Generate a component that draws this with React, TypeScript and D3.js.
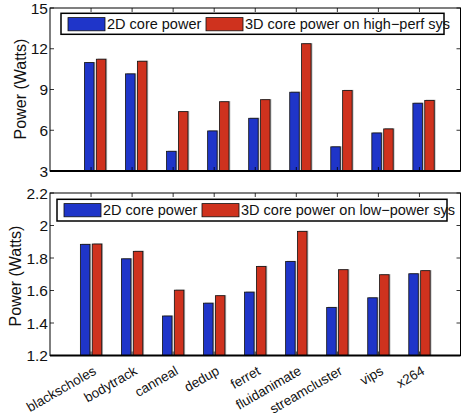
import React, { useEffect, useRef } from "react";
import * as d3 from "d3";

const categories = [
  "blackscholes",
  "bodytrack",
  "canneal",
  "dedup",
  "ferret",
  "fluidanimate",
  "streamcluster",
  "vips",
  "x264",
];

// high-perf system (top panel)
const hpCore2D = [10.98, 10.15, 4.45, 5.95, 6.88, 8.8, 4.78, 5.8, 7.99];
const hpCore3D = [11.23, 11.08, 7.37, 8.1, 8.25, 12.37, 8.93, 6.1, 8.2];
const hpTicks = [3, 6, 9, 12, 15];
const hpLegend = ["2D core power", "3D core power on high\u2212perf sys"];

// low-power system (bottom panel)
const lpCore2D = [1.884, 1.795, 1.443, 1.522, 1.59, 1.779, 1.496, 1.555, 1.703];
const lpCore3D = [1.886, 1.841, 1.602, 1.568, 1.748, 1.964, 1.728, 1.697, 1.722];
const lpTicks = [1.2, 1.4, 1.6, 1.8, 2, 2.2];
const lpLegend = ["2D core power", "3D core power on low\u2212power sys"];

const BLUE = "#1f35c9";
const RED = "#cf321e";
const FONT = "'Liberation Sans', Arial, Helvetica, sans-serif";

const W = 462;
const H = 417;

type PanelOpts = {
  top: number;
  bottom: number;
  a: number[];
  b: number[];
  ticks: number[];
  legend: string[];
  legendBox: [number, number, number, number];
  barShift: number;
  labelY: number;
  labelX: number;
  showCats: boolean;
};

const App = () => {
  const ref = useRef<SVGSVGElement>(null);

  useEffect(() => {
    const svg = d3.select(ref.current);
    svg.selectAll("*").remove();

    const left = 50;
    const right = 460.5;

    const x = d3.scaleLinear().domain([0, 10]).range([left, right]);
    const series = d3.scaleBand().domain(["2D", "3D"]).range([-0.26, 0.26]).paddingInner(0.2);

    const drawPanel = (o: PanelOpts) => {
      const y = d3
        .scaleLinear()
        .domain([o.ticks[0], o.ticks[o.ticks.length - 1]])
        .range([o.bottom, o.top]);
      const g = svg.append("g");

      // bars with a soft shadow
      const rows = categories.map((c, i) => [
        { key: "2D", v: o.a[i], i, color: BLUE },
        { key: "3D", v: o.b[i], i, color: RED },
      ]).flat();

      const bx = (d: any) => x(d.i + 1 + o.barShift + (series(d.key) as number));
      const bw = x(series.bandwidth()) - x(0);

      g.append("g")
        .selectAll("rect")
        .data(rows)
        .enter().append("rect")
        .attr("x", d => bx(d) + 1.3)
        .attr("y", d => y(d.v) - 0.6)
        .attr("width", bw)
        .attr("height", d => y(o.ticks[0]) - y(d.v) + 0.6)
        .attr("fill", "#8a8a8a")
        .attr("opacity", 0.7);

      g.append("g")
        .selectAll("rect")
        .data(rows)
        .enter().append("rect")
        .attr("x", d => bx(d))
        .attr("y", d => y(d.v))
        .attr("width", bw)
        .attr("height", d => y(o.ticks[0]) - y(d.v))
        .attr("fill", d => d.color)
        .attr("stroke", "#111")
        .attr("stroke-width", 0.8);

      // frame
      g.append("rect")
        .attr("x", left)
        .attr("y", o.top)
        .attr("width", right - left)
        .attr("height", o.bottom - o.top)
        .attr("fill", "none")
        .attr("stroke", "#000")
        .attr("stroke-width", 1);
      g.append("line")
        .attr("x1", left).attr("x2", right)
        .attr("y1", o.bottom).attr("y2", o.bottom)
        .attr("stroke", "#000").attr("stroke-width", 2);

      // y ticks (inside, both sides)
      const tl = 4;
      o.ticks.forEach(t => {
        g.append("line").attr("x1", left).attr("x2", left + tl)
          .attr("y1", y(t)).attr("y2", y(t)).attr("stroke", "#000").attr("stroke-width", 0.8);
        g.append("line").attr("x1", right).attr("x2", right - tl)
          .attr("y1", y(t)).attr("y2", y(t)).attr("stroke", "#000").attr("stroke-width", 0.8);
        g.append("text")
          .attr("x", left - 2)
          .attr("y", y(t) + 5.5)
          .attr("text-anchor", "end")
          .attr("font-family", FONT)
          .attr("font-size", 15.5)
          .attr("fill", "#111")
          .text(String(t));
      });

      // x ticks (inside, top and bottom)
      categories.forEach((c, i) => {
        g.append("line").attr("x1", x(i + 1)).attr("x2", x(i + 1))
          .attr("y1", o.top).attr("y2", o.top + tl).attr("stroke", "#000").attr("stroke-width", 0.8);
        g.append("line").attr("x1", x(i + 1)).attr("x2", x(i + 1))
          .attr("y1", o.bottom).attr("y2", o.bottom - tl).attr("stroke", "#000").attr("stroke-width", 0.8);
        if (o.showCats) {
          const ax = x(i + 1) + 6;
          const ay = o.bottom + 18;
          g.append("text")
            .attr("transform", `translate(${ax},${ay}) rotate(-30)`)
            .attr("text-anchor", "end")
            .attr("font-family", FONT)
            .attr("font-size", 13.5)
            .attr("fill", "#111")
            .text(c);
        }
      });

      // y label
      g.append("text")
        .attr("transform", `translate(${o.labelX},${o.labelY}) rotate(-90)`)
        .attr("text-anchor", "middle")
        .attr("font-family", FONT)
        .attr("font-size", 16)
        .attr("fill", "#111")
        .text("Power (Watts)");

      // legend
      const [lx0, ly0, lx1, ly1] = o.legendBox;
      g.append("rect")
        .attr("x", lx0).attr("y", ly0)
        .attr("width", lx1 - lx0).attr("height", ly1 - ly0)
        .attr("fill", "#fff").attr("stroke", "#000").attr("stroke-width", 1.5);
      const itemX = [lx0 + 7, lx0 + 145];
      o.legend.forEach((lab, k) => {
        g.append("rect")
          .attr("x", itemX[k]).attr("y", ly0 + 4.3)
          .attr("width", 37).attr("height", 13.2)
          .attr("fill", k === 0 ? BLUE : RED)
          .attr("stroke", "#111").attr("stroke-width", 0.8);
        g.append("text")
          .attr("x", itemX[k] + 39)
          .attr("y", ly0 + 16)
          .attr("font-family", FONT)
          .attr("font-size", 14.5)
          .attr("fill", "#111")
          .text(lab);
      });
    };

    drawPanel({
      top: 8, bottom: 171, a: hpCore2D, b: hpCore3D, ticks: hpTicks, legend: hpLegend,
      legendBox: [61, 13.3, 444, 34.3], barShift: 0.1, labelY: 89, labelX: 25.5, showCats: false,
    });
    drawPanel({
      top: 193, bottom: 355.5, a: lpCore2D, b: lpCore3D, ticks: lpTicks, legend: lpLegend,
      legendBox: [57, 199.3, 447, 221], barShift: 0, labelY: 276, labelX: 20.5, showCats: true,
    });
  }, []);

  return (
    <svg
      ref={ref}
      width={W}
      height={H}
      style={{ position: "absolute", left: 0, top: 0, background: "#fff" }}
    ></svg>
  );
};

export default App;
